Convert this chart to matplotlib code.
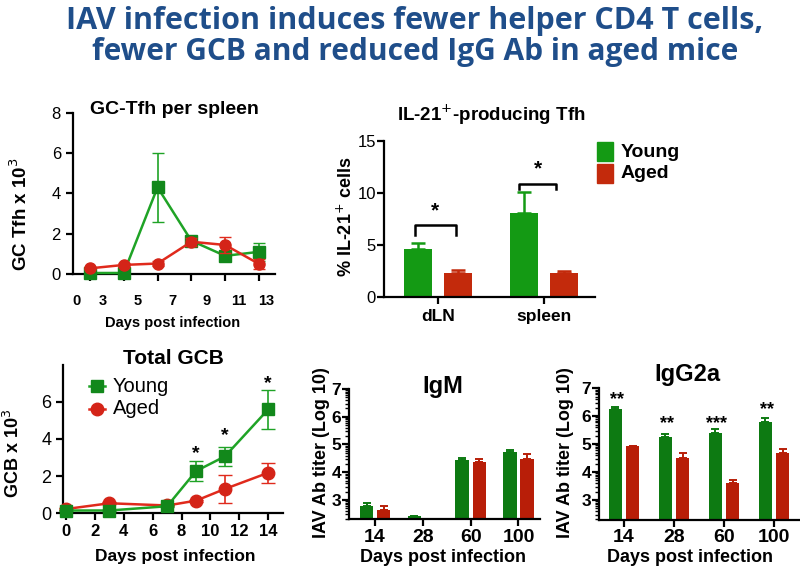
import numpy as np
import matplotlib
matplotlib.use("Agg")
from matplotlib import pyplot as plt
from matplotlib.patches import Rectangle
from matplotlib.lines import Line2D

plt.rcParams['font.family'] = ['Liberation Sans', 'DejaVu Sans']
plt.rcParams['axes.linewidth'] = 1.6
plt.rcParams['xtick.major.width'] = 1.6
plt.rcParams['ytick.major.width'] = 1.6

# colours
GREEN_LINE = '#1fa326'
GREEN_MK = '#12881b'
RED_LINE = '#e02a1c'
RED_MK = '#d42418'
BAR_G1, BAR_R1 = '#149a14', '#c32a0c'
BAR_G2, BAR_R2 = '#0d7a12', '#b81e08'
TITLE_C = '#1f4e8a'

# ---- GC-Tfh per spleen
tfh_days = [3, 5, 7, 9, 11, 13]
tfh_young = [0.05, 0.05, 4.3, 1.65, 0.9, 1.1]
tfh_young_err = [0.0, 0.0, 1.7, 0.2, 0.15, 0.45]
tfh_aged = [0.28, 0.45, 0.52, 1.6, 1.44, 0.5]
tfh_aged_err = [0.05, 0.1, 0.1, 0.2, 0.4, 0.25]
tfh_ticklabels = ['0', '3', '5', '7', '9', '11', '13']

# ---- IL-21+ producing Tfh
il21_groups = ['dLN', 'spleen']
il21_young = [4.63, 8.1]
il21_young_err = [0.6, 2.0]
il21_aged = [2.3, 2.36]
il21_aged_err = [0.29, 0.13]

# ---- Total GCB
gcb_days = [0, 3, 7, 9, 11, 14]
gcb_young = [0.15, 0.15, 0.38, 2.27, 3.06, 5.59]
gcb_young_err = [0.05, 0.05, 0.05, 0.55, 0.52, 1.05]
gcb_aged = [0.23, 0.54, 0.42, 0.68, 1.31, 2.18]
gcb_aged_err = [0.05, 0.05, 0.05, 0.05, 0.75, 0.55]
gcb_stars_days = [9, 11, 14]

# ---- antibody titers
ab_days = ['14', '28', '60', '100']
igm_young = [2.78, 2.43, 4.45, 4.73]
igm_young_err = [0.1, 0.0, 0.05, 0.06]
igm_aged = [2.64, np.nan, 4.36, 4.47]
igm_aged_err = [0.14, 0.0, 0.12, 0.2]
igg_young = [6.27, 5.25, 5.4, 5.8]
igg_young_err = [0.05, 0.12, 0.15, 0.15]
igg_aged = [4.93, 4.5, 3.6, 4.7]
igg_aged_err = [0.0, 0.18, 0.12, 0.14]
igg_stars = ['**', '**', '***', '**']

W, H = 800, 569
fig = plt.figure(figsize=(8, 5.69), dpi=100)


def px_axes(x0, x1, ytop, ybot):
    return fig.add_axes([x0 / W, 1 - ybot / H, (x1 - x0) / W, (ybot - ytop) / H])


def ftext(x, y, s, **kw):
    fig.text(x / W, 1 - y / H, s, **kw)


def clean(ax):
    ax.spines['top'].set_visible(False)
    ax.spines['right'].set_visible(False)
    ax.tick_params(length=5)


# title
ftext(415, 21, 'IAV infection induces fewer helper CD4 T cells,', ha='center', va='center',
      fontsize=22, fontweight='bold', color=TITLE_C, family=['Open Sans', 'DejaVu Sans'])
ftext(415, 52, 'fewer GCB and reduced IgG Ab in aged mice', ha='center', va='center',
      fontsize=21.5, fontweight='bold', color=TITLE_C, family=['Open Sans', 'DejaVu Sans'])

# ---------------- panel 1
ax1 = px_axes(72.7, 275, 112.7, 274)
clean(ax1)
ax1.errorbar(tfh_days, tfh_young, yerr=tfh_young_err, color=GREEN_LINE, lw=1.8,
             marker='s', ms=8, mfc=GREEN_MK, mec=GREEN_MK, capsize=4, elinewidth=1.2,
             clip_on=False, zorder=3)
ax1.errorbar(tfh_days, tfh_aged, yerr=tfh_aged_err, color=RED_LINE, lw=1.8,
             marker='o', ms=8, mfc=RED_MK, mec=RED_MK, capsize=4, elinewidth=1.2,
             clip_on=False, zorder=4)
ax1.set_xlim(1.98, 13.95)
ax1.set_ylim(0, 8)
ax1.set_yticks([0, 2, 4, 6, 8])
ax1.tick_params(axis='y', labelsize=12)
ax1.set_xticks(tfh_days)
ax1.set_xticklabels([])
for lab, xp in zip(tfh_ticklabels, [2.2, 3.75, 5.85, 7.9, 9.9, 11.8, 13.45]):
    ax1.text(xp, -0.17, lab, transform=ax1.get_xaxis_transform(), ha='center', va='center',
             fontsize=10.5, fontweight='bold')
ftext(174, 110, 'GC-Tfh per spleen', ha='center', va='center', fontsize=14, fontweight='bold')
ftext(20, 214, 'GC Tfh x 10$^3$', ha='center', va='center', rotation=90, fontsize=13.5,
      fontweight='bold')
ftext(173, 323, 'Days post infection', ha='center', va='center', fontsize=10.5, fontweight='bold')

# ---------------- panel 2
ax2 = px_axes(384.3, 595, 140.7, 297.3)
clean(ax2)
xg = np.arange(len(il21_groups))
bw, off = 0.265, 0.189
ax2.bar(xg - off, il21_young, bw, color=BAR_G1, yerr=[[0] * 2, il21_young_err],
        error_kw=dict(ecolor=BAR_G1, capsize=5, elinewidth=1.8, capthick=1.8))
ax2.bar(xg + off, il21_aged, bw, color=BAR_R1, yerr=[[0] * 2, il21_aged_err],
        error_kw=dict(ecolor=BAR_R1, capsize=5, elinewidth=1.8, capthick=1.8))
ax2.set_xlim(-0.508, 1.485)
ax2.set_ylim(0, 15)
ax2.set_yticks([0, 5, 10, 15])
ax2.tick_params(axis='y', labelsize=12, pad=1)
ax2.set_xticks(xg)
ax2.set_xticklabels(il21_groups, fontsize=12.5, fontweight='bold')
for g, (ytop, ybot) in enumerate([(6.9, 6.0), (10.9, 10.4)]):
    x0, x1 = g - 0.22 - 0.01 * g, g + 0.17 - 0.05 * g
    ax2.plot([x0, x0, x1, x1], [ybot, ytop, ytop, ybot], color='black', lw=1.8)
    ax2.text((x0 + x1) / 2, ytop + 0.5, '*', ha='center', va='bottom', fontsize=15,
             fontweight='bold')
ftext(491, 115, 'IL-21$^{+}$-producing Tfh', ha='center', va='center', fontsize=13.5,
      fontweight='bold')
ftext(346, 217, '% IL-21$^{+}$ cells', ha='center', va='center', rotation=90, fontsize=13,
      fontweight='bold')
for yy, col, lab in [(142, BAR_G1, 'Young'), (164, BAR_R1, 'Aged')]:
    fig.patches.append(Rectangle((596.7 / W, 1 - (yy + 18.5) / H), 16.6 / W, 18.5 / H,
                                 transform=fig.transFigure, color=col))
    ftext(621, yy + 10, lab, ha='left', va='center', fontsize=14, fontweight='bold')

# ---------------- panel 3
ax3 = px_axes(63.3, 282.7, 364.5, 513.3)
clean(ax3)
ax3.errorbar(gcb_days, gcb_young, yerr=gcb_young_err, color=GREEN_LINE, lw=1.8,
             marker='s', ms=9, mfc=GREEN_MK, mec=GREEN_MK, capsize=5, elinewidth=1.2,
             clip_on=False, zorder=4)
ax3.errorbar(gcb_days, gcb_aged, yerr=gcb_aged_err, color=RED_LINE, lw=1.8,
             marker='o', ms=9, mfc=RED_MK, mec=RED_MK, capsize=5, elinewidth=1.2,
             clip_on=False, zorder=3)
ax3.set_xlim(-0.19, 15.0)
ax3.set_ylim(0, 8)
ax3.set_yticks([0, 2, 4, 6])
ax3.set_xticks(range(0, 15, 2))
ax3.tick_params(axis='y', labelsize=13)
ax3.tick_params(axis='x', labelsize=12, pad=3)
for t in ax3.get_xticklabels():
    t.set_fontweight('bold')
for d, ys in zip(gcb_stars_days, [3.2, 4.2, 7.0]):
    ax3.text(d, ys, '*', ha='center', va='center', fontsize=14, fontweight='bold')
ftext(173, 358, 'Total GCB', ha='center', va='center', fontsize=15, fontweight='bold')
ftext(13, 453, 'GCB x 10$^3$', ha='center', va='center', rotation=90, fontsize=13,
      fontweight='bold')
ftext(175, 557, 'Days post infection', ha='center', va='center', fontsize=12.5, fontweight='bold')
for yy, col, mk, m, lab in [(386, GREEN_LINE, GREEN_MK, 's', 'Young'),
                            (409, RED_LINE, RED_MK, 'o', 'Aged')]:
    fig.lines.append(Line2D([89 / W, 105 / W], [1 - yy / H] * 2, transform=fig.transFigure,
                            color=col, lw=1.8))
    fig.lines.append(Line2D([97 / W], [1 - yy / H], transform=fig.transFigure, marker=m,
                            ms=9, mfc=mk, mec=mk))
    ftext(113, yy, lab, ha='left', va='center', fontsize=14.5)


# ---------------- panels 4 and 5
def titer_panel(ax, young, yerr_y, aged, yerr_a, spacing):
    clean(ax)
    xs = np.arange(len(ab_days))
    bw = 0.28 * 47.8 / spacing
    off = 0.18 * 47.8 / spacing
    ax.bar(xs - off, young, bw, color=BAR_G2, yerr=[[0] * 4, yerr_y],
           error_kw=dict(ecolor=BAR_G2, capsize=3, elinewidth=1.4, capthick=1.4))
    ax.bar(xs + off, aged, bw, color=BAR_R2, yerr=[[0] * 4, yerr_a],
           error_kw=dict(ecolor=BAR_R2, capsize=3, elinewidth=1.4, capthick=1.4))
    ax.set_ylim(2.3, 7)
    ax.set_yticks([3, 4, 5, 6, 7])
    minors = [n + np.log10(k) for n in range(2, 7) for k in range(2, 10)]
    ax.set_yticks([m for m in minors if 2.3 < m < 7], minor=True)
    ax.tick_params(axis='y', which='minor', length=3, width=1)
    ax.tick_params(axis='y', labelsize=12.5, pad=1)
    ax.set_xticks(xs)
    ax.set_xticklabels(ab_days, fontsize=14, fontweight='bold')
    ax.tick_params(axis='x', pad=2)
    for t in ax.get_yticklabels():
        t.set_fontweight('bold')
    return xs


ax4 = px_axes(349.3, 540, 389, 519.4)
titer_panel(ax4, igm_young, igm_young_err, igm_aged, igm_aged_err, 47.8)
ax4.set_xlim(-0.54, 3.45)
ftext(443, 387, 'IgM', ha='center', va='center', fontsize=17, fontweight='bold')
ftext(321, 453, 'IAV Ab titer (Log 10)', ha='center', va='center', rotation=90, fontsize=13,
      fontweight='bold')
ftext(443, 558, 'Days post infection', ha='center', va='center', fontsize=13, fontweight='bold')

ax5 = px_axes(599.3, 800, 388.3, 519.5)
xs5 = titer_panel(ax5, igg_young, igg_young_err, igg_aged, igg_aged_err, 50)
ax5.set_xlim(-0.494, 3.52)
for x, s, yv in zip(xs5, igg_stars, [6.6, 5.75, 5.75, 6.25]):
    ax5.text(x - 0.15, yv, s, ha='center', va='center', fontsize=13, fontweight='bold')
ftext(687, 375, 'IgG2a', ha='center', va='center', fontsize=17, fontweight='bold')
ftext(566, 453, 'IAV Ab titer (Log 10)', ha='center', va='center', rotation=90, fontsize=13,
      fontweight='bold')
ftext(690, 558, 'Days post infection', ha='center', va='center', fontsize=13, fontweight='bold')

fig.savefig('out.png', dpi=100)
